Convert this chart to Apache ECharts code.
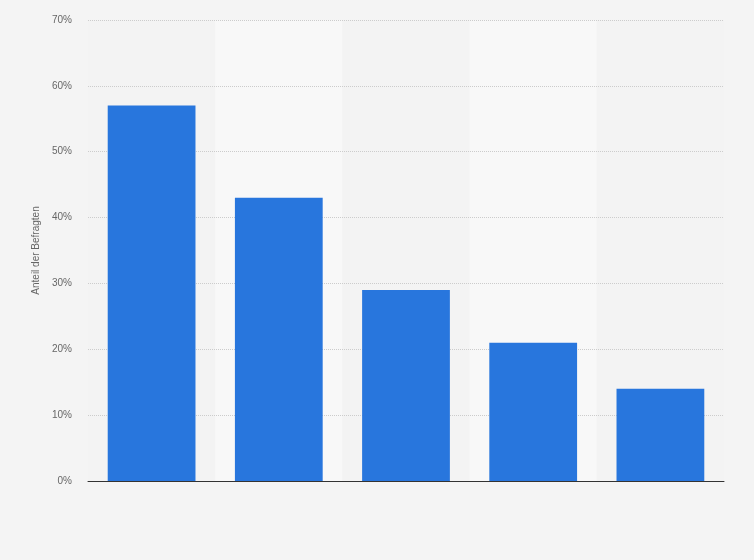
<!DOCTYPE html>
<html><head><meta charset="utf-8">
<script src="https://cdn.jsdelivr.net/npm/echarts@6/dist/echarts.min.js"></script>
<style>html,body{margin:0;padding:0;background:#f4f4f4;}#c{width:754px;height:560px;}</style>
</head><body><div id="c"></div>
<script>
const categories = ['A', 'B', 'C', 'D', 'E'];
const values = [57, 43, 29, 21, 14];
const yTicks = { min: 0, max: 70, interval: 10 };
const yName = 'Anteil der Befragten';

const chart = echarts.init(document.getElementById('c'));
chart.setOption({
  backgroundColor: '#f4f4f4',
  animation: false,
  grid: { left: 88, right: 30, top: 20, bottom: 79 },
  xAxis: [{
    type: 'category',
    data: categories,
    z: 5,
    axisLine: { lineStyle: { color: '#333', width: 1 } },
    axisTick: { show: false },
    axisLabel: { show: false },
    splitArea: { show: false }
  }, {
    type: 'category',
    data: categories,
    position: 'bottom',
    z: 0,
    axisLine: { show: false },
    axisTick: { show: false },
    axisLabel: { show: false },
    splitArea: { show: true, areaStyle: { color: ['#f3f3f3', '#f8f8f8'] } }
  }],
  yAxis: {
    type: 'value',
    z: 1,
    min: yTicks.min, max: yTicks.max, interval: yTicks.interval,
    name: yName,
    nameLocation: 'middle',
    nameGap: 44,
    nameTextStyle: { color: '#666', fontSize: 10, fontFamily: 'Arial, Liberation Sans' },
    axisLine: { show: false },
    axisTick: { show: false },
    axisLabel: { formatter: '{value}%', color: '#666', fontSize: 10, margin: 16, fontFamily: 'Arial, Liberation Sans' },
    splitLine: { lineStyle: { color: '#cccccc', type: 'dotted' } }
  },
  series: [{
    type: 'bar',
    data: values,
    xAxisIndex: 0,
    z: 2,
    barCategoryGap: '31%',
    itemStyle: { color: '#2876dd' }
  }]
});
</script></body></html>
